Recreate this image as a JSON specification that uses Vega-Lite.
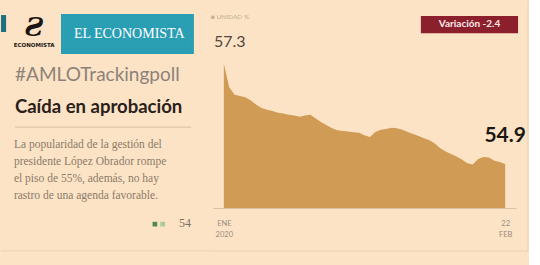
{
  "$schema": "https://vega.github.io/schema/vega-lite/v6.json",
  "background": "#FCE3C5",
  "padding": 0,
  "spacing": 0,
  "bounds": "flush",
  "config": {"view": {"stroke": null}, "font": "Lato"},
  "datasets": {
    "poll": [
      {"date": "2020-01-01T00:00:00", "value": 57.3},
      {"date": "2020-01-02T00:00:00", "value": 56.74},
      {"date": "2020-01-03T00:00:00", "value": 56.56},
      {"date": "2020-01-04T00:00:00", "value": 56.53},
      {"date": "2020-01-05T00:00:00", "value": 56.5},
      {"date": "2020-01-06T00:00:00", "value": 56.42},
      {"date": "2020-01-07T00:00:00", "value": 56.32},
      {"date": "2020-01-08T00:00:00", "value": 56.24},
      {"date": "2020-01-09T00:00:00", "value": 56.2},
      {"date": "2020-01-10T00:00:00", "value": 56.17},
      {"date": "2020-01-11T00:00:00", "value": 56.13},
      {"date": "2020-01-12T00:00:00", "value": 56.11},
      {"date": "2020-01-13T00:00:00", "value": 56.08},
      {"date": "2020-01-14T00:00:00", "value": 56.06},
      {"date": "2020-01-15T00:00:00", "value": 56.03},
      {"date": "2020-01-16T00:00:00", "value": 56.06},
      {"date": "2020-01-17T00:00:00", "value": 56.08},
      {"date": "2020-01-18T00:00:00", "value": 55.99},
      {"date": "2020-01-19T00:00:00", "value": 55.9},
      {"date": "2020-01-20T00:00:00", "value": 55.83},
      {"date": "2020-01-21T00:00:00", "value": 55.76},
      {"date": "2020-01-22T00:00:00", "value": 55.71},
      {"date": "2020-01-23T00:00:00", "value": 55.69},
      {"date": "2020-01-24T00:00:00", "value": 55.68},
      {"date": "2020-01-25T00:00:00", "value": 55.66},
      {"date": "2020-01-26T00:00:00", "value": 55.65},
      {"date": "2020-01-27T00:00:00", "value": 55.59},
      {"date": "2020-01-28T00:00:00", "value": 55.55},
      {"date": "2020-01-29T00:00:00", "value": 55.67},
      {"date": "2020-01-30T00:00:00", "value": 55.72},
      {"date": "2020-01-31T00:00:00", "value": 55.74},
      {"date": "2020-02-01T00:00:00", "value": 55.77},
      {"date": "2020-02-02T00:00:00", "value": 55.76},
      {"date": "2020-02-03T00:00:00", "value": 55.72},
      {"date": "2020-02-04T00:00:00", "value": 55.67},
      {"date": "2020-02-05T00:00:00", "value": 55.62},
      {"date": "2020-02-06T00:00:00", "value": 55.57},
      {"date": "2020-02-07T00:00:00", "value": 55.52},
      {"date": "2020-02-08T00:00:00", "value": 55.47},
      {"date": "2020-02-09T00:00:00", "value": 55.39},
      {"date": "2020-02-10T00:00:00", "value": 55.28},
      {"date": "2020-02-11T00:00:00", "value": 55.2},
      {"date": "2020-02-12T00:00:00", "value": 55.14},
      {"date": "2020-02-13T00:00:00", "value": 55.08},
      {"date": "2020-02-14T00:00:00", "value": 55.01},
      {"date": "2020-02-15T00:00:00", "value": 54.92},
      {"date": "2020-02-16T00:00:00", "value": 54.89},
      {"date": "2020-02-17T00:00:00", "value": 55.02},
      {"date": "2020-02-18T00:00:00", "value": 55.07},
      {"date": "2020-02-19T00:00:00", "value": 55.06},
      {"date": "2020-02-20T00:00:00", "value": 54.98},
      {"date": "2020-02-21T00:00:00", "value": 54.95},
      {"date": "2020-02-22T00:00:00", "value": 54.9}
    ]
  },
  "hconcat": [
    {
      "width": 212,
      "height": 265,
      "data": {"values": [{}]},
      "layer": [
        {
          "mark": {"type": "rect", "color": "#1F6F82"},
          "encoding": {
            "x": {"datum": 0, "type": "quantitative", "scale": {"domain": [0, 100]}, "axis": null},
            "x2": {"datum": 2.4},
            "y": {"datum": 94.7, "type": "quantitative", "scale": {"domain": [0, 100]}, "axis": null},
            "y2": {"datum": 88.3}
          }
        },
        {
          "mark": {"type": "text", "font": "DejaVu Serif", "fontWeight": "bold", "fontStyle": "italic", "fontSize": 26, "color": "#1A1512", "align": "center", "baseline": "middle"},
          "encoding": {
            "x": {"datum": 15.6, "type": "quantitative", "axis": null},
            "y": {"datum": 89.8, "type": "quantitative", "axis": null},
            "text": {"value": "Ƨ"}
          }
        },
        {
          "mark": {"type": "text", "font": "DejaVu Sans", "fontWeight": "bold", "fontSize": 5.5, "color": "#1A1512", "align": "center", "baseline": "middle"},
          "encoding": {
            "x": {"datum": 15.6, "type": "quantitative", "axis": null},
            "y": {"datum": 83.4, "type": "quantitative", "axis": null},
            "text": {"value": "ECONOMISTA"}
          }
        },
        {
          "mark": {"type": "rect", "color": "#2A9EB3"},
          "encoding": {
            "x": {"datum": 28.3, "type": "quantitative", "axis": null},
            "x2": {"datum": 91.0},
            "y": {"datum": 95.1, "type": "quantitative", "axis": null},
            "y2": {"datum": 80.0}
          }
        },
        {
          "mark": {"type": "text", "font": "Liberation Serif", "fontSize": 14, "color": "#FFFFFF", "align": "center", "baseline": "middle"},
          "encoding": {
            "x": {"datum": 60.5, "type": "quantitative", "axis": null},
            "y": {"datum": 87.4, "type": "quantitative", "axis": null},
            "text": {"value": "EL ECONOMISTA"}
          }
        },
        {
          "mark": {"type": "text", "font": "Lato", "fontSize": 19, "color": "#8C8279", "align": "left", "baseline": "middle"},
          "encoding": {
            "x": {"datum": 6.6, "type": "quantitative", "axis": null},
            "y": {"datum": 72.1, "type": "quantitative", "axis": null},
            "text": {"value": "#AMLOTrackingpoll"}
          }
        },
        {
          "mark": {"type": "text", "font": "Lato", "fontWeight": "bold", "fontSize": 18.5, "color": "#2A201B", "align": "left", "baseline": "middle"},
          "encoding": {
            "x": {"datum": 6.6, "type": "quantitative", "axis": null},
            "y": {"datum": 60.0, "type": "quantitative", "axis": null},
            "text": {"value": "Caída en aprobación"}
          }
        },
        {
          "mark": {"type": "rule", "color": "#D9BF9E", "strokeWidth": 1},
          "encoding": {
            "x": {"datum": 6.6, "type": "quantitative", "axis": null},
            "x2": {"datum": 89.6},
            "y": {"datum": 52.4, "type": "quantitative", "axis": null}
          }
        },
        {
          "mark": {"type": "text", "font": "Liberation Serif", "fontSize": 11.5, "color": "#8B7B69", "align": "left", "baseline": "top", "lineHeight": 17},
          "encoding": {
            "x": {"datum": 6.1, "type": "quantitative", "axis": null},
            "y": {"datum": 47.8, "type": "quantitative", "axis": null},
            "text": {"value": ["La popularidad de la gestión del", "presidente López Obrador rompe", "el piso de 55%, además, no hay", "rastro de una agenda favorable."]}
          }
        },
        {
          "mark": {"type": "square", "color": "#4E8A58", "opacity": 1, "size": 22},
          "encoding": {
            "x": {"datum": 72.6, "type": "quantitative", "axis": null},
            "y": {"datum": 15.8, "type": "quantitative", "axis": null}
          }
        },
        {
          "mark": {"type": "square", "color": "#A9C7A0", "opacity": 1, "size": 22},
          "encoding": {
            "x": {"datum": 76.3, "type": "quantitative", "axis": null},
            "y": {"datum": 15.8, "type": "quantitative", "axis": null}
          }
        },
        {
          "mark": {"type": "text", "font": "Liberation Serif", "fontSize": 12, "color": "#7E7062", "align": "left", "baseline": "middle"},
          "encoding": {
            "x": {"datum": 84.0, "type": "quantitative", "axis": null},
            "y": {"datum": 16.2, "type": "quantitative", "axis": null},
            "text": {"value": "54"}
          }
        },
        {
          "mark": {"type": "rule", "color": "#EBD0AE", "strokeWidth": 1},
          "encoding": {
            "x": {"datum": 0, "type": "quantitative", "axis": null},
            "x2": {"datum": 100},
            "y": {"datum": 5.7, "type": "quantitative", "axis": null}
          }
        }
      ]
    },
    {
      "width": 303,
      "height": 207,
      "layer": [
        {
          "data": {"name": "poll"},
          "mark": {"type": "area", "color": "#D09B55", "interpolate": "linear"},
          "encoding": {
            "x": {
              "field": "date",
              "type": "temporal",
              "scale": {"domain": [{"year": 2019, "month": 12, "date": 30}, {"year": 2020, "month": 2, "date": 24}]},
              "axis": {
                "title": null,
                "values": [{"year": 2020, "month": 1, "date": 1}, {"year": 2020, "month": 2, "date": 22}],
                "labelExpr": "month(datum.value) == 0 ? ['ENE', '2020'] : ['22', 'FEB']",
                "ticks": false,
                "grid": false,
                "domainColor": "#D8C2A4",
                "labelColor": "#9B8C7D",
                "labelFont": "Lato",
                "labelFontSize": 7.5,
                "labelLineHeight": 11,
                "labelPadding": 11,
                "labelFlush": false
              }
            },
            "y": {
              "field": "value",
              "type": "quantitative",
              "scale": {"domain": [53.85, 58.8], "zero": false, "nice": false},
              "axis": null
            },
            "y2": {"datum": 53.85}
          }
        },
        {
          "data": {"values": [{}]},
          "mark": {"type": "rect", "color": "#8C1F2C"},
          "encoding": {
            "x": {"datum": {"year": 2020, "month": 2, "date": 6, "hours": 10}, "type": "temporal"},
            "x2": {"datum": {"year": 2020, "month": 2, "date": 24, "hours": 9}},
            "y": {"datum": 58.44, "type": "quantitative"},
            "y2": {"datum": 58.03}
          }
        },
        {
          "data": {"values": [{}]},
          "mark": {"type": "text", "font": "Lato", "fontSize": 10, "fontWeight": "bold", "color": "#FBE9EA", "align": "center", "baseline": "middle"},
          "encoding": {
            "x": {"datum": {"year": 2020, "month": 2, "date": 15, "hours": 10}, "type": "temporal"},
            "y": {"datum": 58.24, "type": "quantitative"},
            "text": {"value": "Variación -2.4"}
          }
        },
        {
          "data": {"values": [{}]},
          "mark": {"type": "text", "font": "Lato", "fontSize": 6.5, "color": "#C2AD92", "align": "left", "baseline": "middle"},
          "encoding": {
            "x": {"datum": {"year": 2019, "month": 12, "date": 29, "hours": 15}, "type": "temporal"},
            "y": {"datum": 58.42, "type": "quantitative"},
            "text": {"value": "■ UNIDAD %"}
          }
        },
        {
          "data": {"values": [{}]},
          "mark": {"type": "text", "font": "Lato", "fontSize": 16, "color": "#51483F", "align": "left", "baseline": "middle"},
          "encoding": {
            "x": {"datum": {"year": 2019, "month": 12, "date": 30, "hours": 4}, "type": "temporal"},
            "y": {"datum": 57.82, "type": "quantitative"},
            "text": {"value": "57.3"}
          }
        },
        {
          "data": {"values": [{}]},
          "mark": {"type": "text", "font": "Lato", "fontSize": 21, "fontWeight": "bold", "color": "#1C1713", "align": "right", "baseline": "middle"},
          "encoding": {
            "x": {"datum": {"year": 2020, "month": 2, "date": 25, "hours": 20}, "type": "temporal"},
            "y": {"datum": 55.57, "type": "quantitative"},
            "text": {"value": "54.9"}
          }
        },
        {
          "data": {"values": [{}]},
          "mark": {"type": "rule", "color": "#EBD0AE", "strokeWidth": 1},
          "encoding": {
            "x": {"datum": {"year": 2020, "month": 2, "date": 26, "hours": 5}, "type": "temporal"},
            "y": {"datum": 58.8, "type": "quantitative"},
            "y2": {"datum": 52.82}
          }
        },
        {
          "data": {"values": [{}]},
          "mark": {"type": "rule", "color": "#EBD0AE", "strokeWidth": 1},
          "encoding": {
            "x": {"datum": {"year": 2019, "month": 12, "date": 30}, "type": "temporal"},
            "x2": {"datum": {"year": 2020, "month": 2, "date": 26, "hours": 5}},
            "y": {"datum": 52.82, "type": "quantitative"}
          }
        }
      ]
    }
  ]
}
